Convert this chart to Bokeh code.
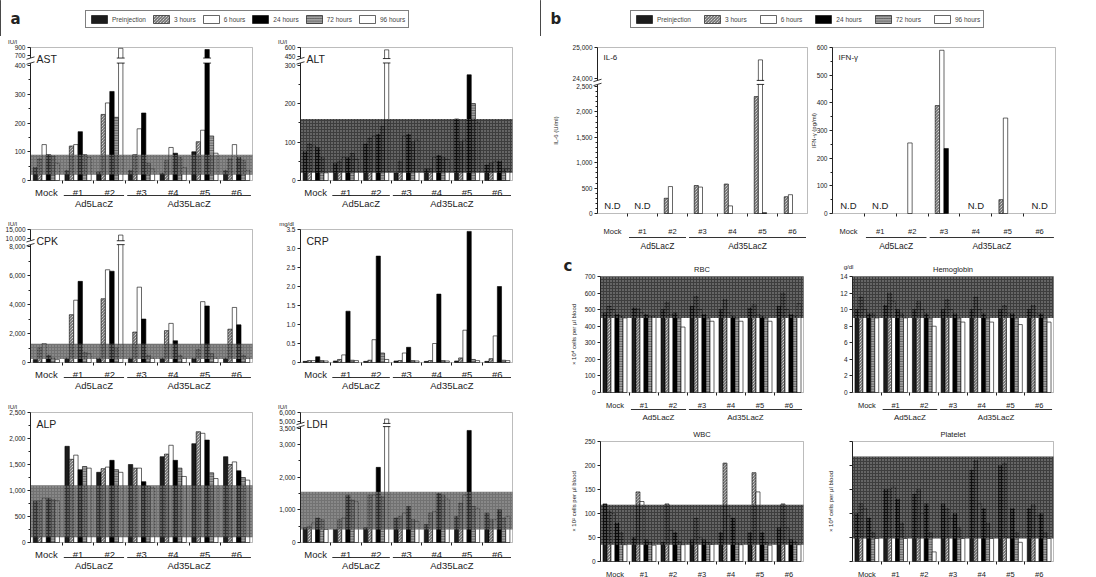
import math
from bokeh.plotting import figure
from bokeh.layouts import row, column
from bokeh.models import Range1d, FixedTicker, BoxAnnotation, Legend, LegendItem, LinearAxis
from bokeh.core.properties import value
from bokeh.embed import file_html
from bokeh.resources import INLINE

FONT = "Liberation Sans"

# ---------------- data ----------------
groups = ["Mock", "#1", "#2", "#3", "#4", "#5", "#6"]
timepoints = ["Preinjection", "3 hours", "6 hours", "24 hours", "72 hours", "96 hours"]
vectors = ["Ad5LacZ", "Ad35LacZ"]
vector_members = [["#1", "#2"], ["#3", "#4", "#5", "#6"]]

# rows = timepoints (Preinjection, 3h, 6h, 24h, 72h, 96h); columns = groups
AST_VALUES = [
    [45, 35, 30, 35, 25, 100, 35],
    [75, 120, 230, 90, 70, 135, 75],
    [125, 125, 270, 180, 115, 175, 125],
    [90, 170, 310, 235, 95, 850, 80],
    [85, 90, 220, 60, 80, 155, 70],
    [60, 80, 880, 40, 45, 95, 35],
]
AST_BAND = [20, 90]
AST_TICKS = [0, 100, 200, 300, 400, 700, 900]
AST_TICK_LABELS = ["0", "100", "200", "300", "400", "700", "900"]
AST_MINOR = [50, 150, 250, 350]

ALT_VALUES = [
    [75, 45, 95, 20, 30, 160, 40],
    [95, 50, 110, 50, 30, 100, 45],
    [90, 60, 115, 115, 60, 105, 50],
    [85, 60, 120, 120, 65, 275, 50],
    [60, 70, 140, 100, 60, 200, 30],
    [20, 55, 560, 105, 55, 150, 30],
]
ALT_BAND = [20, 160]
ALT_TICKS = [0, 100, 200, 300, 450, 600]
ALT_TICK_LABELS = ["0", "100", "200", "300", "450", "600"]
ALT_MINOR = [50, 150, 250]

CPK_VALUES = [
    [200, 300, 300, 300, 300, 300, 300],
    [1000, 3300, 4400, 2100, 2200, 900, 2300],
    [1300, 4300, 6400, 5200, 2700, 4200, 3800],
    [500, 5600, 6300, 3000, 1500, 3900, 2600],
    [300, 700, 1000, 500, 500, 600, 500],
    [200, 600, 12000, 300, 300, 300, 300],
]
CPK_BAND = [250, 1300]
CPK_TICKS = [0, 2000, 4000, 6000, 8000, 10000, 15000]
CPK_TICK_LABELS = ["0", "2,000", "4,000", "6,000", "8,000", "10,000", "15,000"]
CPK_MINOR = [1000, 3000, 5000, 7000]

CRP_VALUES = [
    [0.03, 0.04, 0.03, 0.04, 0.03, 0.04, 0.03],
    [0.05, 0.08, 0.06, 0.05, 0.05, 0.12, 0.1],
    [0.05, 0.2, 0.6, 0.25, 0.5, 0.85, 0.7],
    [0.15, 1.35, 2.8, 0.4, 1.8, 3.45, 2.0],
    [0.05, 0.06, 0.25, 0.05, 0.05, 0.08, 0.06],
    [0.04, 0.05, 0.08, 0.04, 0.04, 0.05, 0.05],
]
CRP_TICKS = [0, 0.5, 1.0, 1.5, 2.0, 2.5, 3.0, 3.5]
CRP_TICK_LABELS = ["0", "0.5", "1.0", "1.5", "2.0", "2.5", "3.0", "3.5"]

ALP_VALUES = [
    [800, 1850, 1350, 1500, 1650, 1900, 1650],
    [800, 1600, 1420, 1430, 1700, 2130, 1500],
    [850, 1680, 1450, 1430, 1870, 2100, 1550],
    [850, 1400, 1580, 1170, 1580, 1970, 1380],
    [820, 1460, 1400, 1080, 1430, 1340, 1250],
    [800, 1430, 1350, 1050, 1270, 1230, 1200],
]
ALP_BAND = [100, 1100]
ALP_TICKS = [0, 500, 1000, 1500, 2000, 2500]
ALP_TICK_LABELS = ["0", "500", "1,000", "1,500", "2,000", "2,500"]
ALP_MINOR = [250, 750, 1250, 1750, 2250]

LDH_VALUES = [
    [450, 400, 450, 750, 550, 800, 900],
    [500, 700, 1450, 800, 900, 1200, 700],
    [600, 750, 1450, 900, 950, 1450, 700],
    [750, 1450, 2300, 1100, 1500, 3430, 1000],
    [700, 1300, 1400, 700, 1450, 1100, 750],
    [400, 1250, 5300, 650, 1330, 1050, 800],
]
LDH_BAND = [400, 1550]
LDH_TICKS = [0, 1000, 2000, 3000, 3500, 5000, 6000]
LDH_TICK_LABELS = ["0", "1,000", "2,000", "3,000", "3,500", "5,000", "6,000"]
LDH_MINOR = [500, 1500, 2500]

IL6_VALUES = [
    [0, 0, 0, 0, 0, 0, 0],
    [0, 0, 300, 550, 580, 2300, 330],
    [0, 0, 530, 520, 150, 24600, 370],
    [0, 0, 0, 0, 0, 15, 0],
    [0, 0, 0, 0, 0, 0, 0],
    [0, 0, 0, 0, 0, 0, 0],
]
IL6_ND = ["Mock", "#1"]
IL6_TICKS = [0, 500, 1000, 1500, 2000, 2500, 24000, 25000]
IL6_TICK_LABELS = ["0", "500", "1,000", "1,500", "2,000", "2,500", "24,000", "25,000"]
IL6_MINOR = [100, 200, 300, 400, 600, 700, 800, 900, 1100, 1200, 1300, 1400,
             1600, 1700, 1800, 1900, 2100, 2200, 2300, 2400]

IFN_VALUES = [
    [0, 0, 0, 0, 0, 0, 0],
    [0, 0, 0, 390, 0, 50, 0],
    [0, 0, 255, 590, 0, 345, 0],
    [0, 0, 0, 235, 0, 0, 0],
    [0, 0, 0, 0, 0, 0, 0],
    [0, 0, 0, 0, 0, 0, 0],
]
IFN_ND = ["Mock", "#1", "#4", "#6"]
IFN_TICKS = [0, 100, 200, 300, 400, 500, 600]
IFN_TICK_LABELS = ["0", "100", "200", "300", "400", "500", "600"]
IFN_MINOR = [50, 150, 250, 350, 450, 550]

RBC_VALUES = [
    [480, 510, 500, 520, 500, 510, 520],
    [520, 505, 545, 580, 560, 530, 600],
    [500, 480, 470, 500, 480, 470, 500],
    [470, 470, 480, 470, 460, 460, 470],
    [460, 460, 450, 450, 450, 450, 460],
    [450, 460, 395, 430, 430, 430, 535],
]
RBC_BAND = [450, 700]
RBC_TICKS = [0, 100, 200, 300, 400, 500, 600, 700]
RBC_TICK_LABELS = ["0", "100", "200", "300", "400", "500", "600", "700"]

HB_VALUES = [
    [10, 10.5, 10, 10, 10, 10, 10],
    [11.5, 12, 11, 11.2, 11.5, 10.5, 10.5],
    [10, 11, 10, 10, 10, 9.5, 9.5],
    [9.5, 10, 9.5, 9.5, 9.5, 9.5, 9.5],
    [9.5, 9.5, 9, 9, 9, 9, 9],
    [9, 9, 8, 8.5, 8.5, 8.2, 8.5],
]
HB_BAND = [9, 14]
HB_TICKS = [0, 2, 4, 6, 8, 10, 12, 14]
HB_TICK_LABELS = ["0", "2", "4", "6", "8", "10", "12", "14"]

WBC_VALUES = [
    [120, 50, 40, 45, 60, 60, 70],
    [105, 145, 120, 90, 205, 185, 120],
    [100, 125, 65, 50, 95, 145, 70],
    [80, 45, 60, 45, 90, 60, 45],
    [60, 40, 42, 40, 38, 40, 41],
    [35, 34, 35, 36, 35, 34, 35],
]
WBC_BAND = [35, 118]
WBC_TICKS = [0, 50, 100, 150, 200, 250]
WBC_TICK_LABELS = ["0", "50", "100", "150", "200", "250"]

PLT_VALUES = [
    [100, 150, 140, 120, 190, 200, 110],
    [120, 150, 150, 110, 210, 205, 118],
    [110, 155, 100, 90, 120, 50, 95],
    [90, 130, 120, 100, 110, 110, 100],
    [60, 80, 60, 70, 80, 60, 60],
    [48, 48, 20, 48, 48, 40, 48],
]
PLT_BAND = [48, 219]
PLT_TICKS = [0, 50, 100, 150, 200, 250]   # ticks drawn without labels

# ---------------- styles ----------------
BAR_STYLES = [
    dict(fill_color="#1c1c1c", line_color="black"),
    dict(fill_color="white", line_color="black", hatch_pattern="\\", hatch_color="#222",
         hatch_scale=3.0, hatch_weight=0.8),
    dict(fill_color="white", line_color="black"),
    dict(fill_color="black", line_color="black"),
    dict(fill_color="#a0a0a0", line_color="black", hatch_pattern="-", hatch_color="#333",
         hatch_scale=2.5, hatch_weight=0.6),
    dict(fill_color="white", line_color="black"),
]
# (fill colour, fill alpha) of the stippled normal-range band
BAND_DARK = ("#0c0c0c", 0.8)
BAND_MID = ("#3c3c3c", 0.72)
INK = "#222222"

# text sizes and label offsets per panel block
STYLE_A = dict(name="10.5px", cat="9.5px", group="9.5px", nd="9.5px", title="8px",
               cat_standoff=3, ul_px=15, group_dy=2)
STYLE_B = dict(name="8px", cat="7.5px", group="8.5px", nd="9.5px", title="8px",
               cat_standoff=10, ul_px=24, group_dy=3)
STYLE_C = dict(name="8px", cat="7.5px", group="8px", nd="9px", title="7.5px",
               cat_standoff=5, ul_px=17, group_dy=3)


def make_map(brk):
    if brk is None:
        return lambda v: v
    lo_max, up_min, up_max, d_min, d_max = brk

    def f(v):
        if v <= lo_max:
            return v
        if v >= up_min:
            return round(d_min + (v - up_min) * (d_max - d_min) / (up_max - up_min), 4)
        return lo_max
    return f


def put_text(p, x, y, s, size, dx=0, dy=0, align="center", baseline="middle",
             angle=0.0, bold=False, font=FONT):
    p.text(x=[x], y=[y], text=[s], x_offset=dx, y_offset=-dy, angle=angle,
           text_align=align, text_baseline=baseline, text_font=value(font),
           text_font_size=size, text_color=INK,
           text_font_style="bold" if bold else "normal")


def make_panel(w, h, l, r, t, b, values, band, ticks, tick_labels=None, minor=(),
               name=None, title=None, unit=None, unit_pos=(-18, 6), ylabel=None,
               ylabel_dx=-30, nd=(), brk=None, band_style=BAND_MID, show_groups=True,
               st=STYLE_A):
    f = make_map(brk)
    n = len(groups)
    y_top = f(ticks[-1])
    upp = y_top / (h - t - b)
    xpp = n / (w - l - r)
    x_end = n - 0.5
    p = figure(width=w, height=h, output_backend="svg", toolbar_location=None,
               x_range=Range1d(-0.5 - l * xpp, x_end + r * xpp),
               y_range=Range1d(-b * upp, y_top + t * upp),
               x_axis_location=None, y_axis_location="left",
               min_border=0, outline_line_color=None,
               background_fill_color="white", border_fill_color="white")
    p.grid.visible = False

    # y axis drawn at the left edge of the box
    ax = p.yaxis[0]
    disp = [f(v) for v in ticks]
    ax.fixed_location = -0.5
    ax.bounds = (0, y_top)
    ax.axis_line_color = INK
    ax.major_tick_in = 0
    ax.minor_tick_in = 0
    ax.major_tick_line_color = INK
    ax.minor_tick_line_color = INK
    if tick_labels is not None:
        ax.ticker = FixedTicker(ticks=disp, minor_ticks=[f(v) for v in minor])
        ax.major_label_overrides = {d: s for d, s in zip(disp, tick_labels)}
        ax.major_label_text_font = FONT
        ax.major_label_text_font_size = "6.5px"
        ax.major_label_text_color = INK
        ax.major_label_standoff = 2
        ax.major_tick_out = 3
        ax.minor_tick_out = 2
    else:
        ax.ticker = FixedTicker(ticks=[], minor_ticks=disp)
        ax.minor_tick_out = 3

    # x axis: group names at the centres, small ticks at the boundaries
    xa = LinearAxis(fixed_location=0, bounds=(-0.5, x_end),
                    ticker=FixedTicker(ticks=list(range(n)),
                                       minor_ticks=[i + 0.5 for i in range(n - 1)]),
                    major_label_overrides={i: g for i, g in enumerate(groups)},
                    major_label_text_font=FONT, major_label_text_font_size=st["cat"],
                    major_label_text_color=INK, major_label_standoff=st["cat_standoff"],
                    major_tick_out=0, major_tick_in=0, major_tick_line_color=None,
                    minor_tick_out=3, minor_tick_in=0, minor_tick_line_color=INK,
                    axis_line_color=None)
    p.add_layout(xa, "below")

    bw = 0.138
    for k, vals in enumerate(values):
        xs = [i + (k - 2.5) * bw for i, v in enumerate(vals) if v > 0]
        tops = [f(v) for v in vals if v > 0]
        p.vbar(x=xs, top=tops, bottom=0, width=bw, line_width=0.6, **BAR_STYLES[k])

    # normal range: stippled band laid over the bars
    if band is not None:
        p.quad(left=[-0.5], right=[x_end], bottom=[f(band[0])], top=[f(band[1])],
               fill_color=band_style[0], fill_alpha=band_style[1], line_color=None,
               hatch_pattern=".", hatch_color="#b4b4b4", hatch_alpha=0.85,
               hatch_scale=3.0, hatch_weight=0.7)

    if brk is not None:
        lo_max, up_min, up_max, d_min, d_max = brk
        g0 = lo_max + (d_min - lo_max) * 0.25
        g1 = lo_max + (d_min - lo_max) * 0.75
        bx = [i + (k - 2.5) * bw for k, vals in enumerate(values)
              for i, v in enumerate(vals) if v > lo_max]
        if bx:
            p.quad(left=[x - bw * 0.9 for x in bx], right=[x + bw * 0.9 for x in bx],
                   bottom=[g0] * len(bx), top=[g1] * len(bx),
                   fill_color="white", line_color=None)
            p.segment(x0=[x - bw * 0.9 for x in bx] * 2, x1=[x + bw * 0.9 for x in bx] * 2,
                      y0=[g0] * len(bx) + [g1] * len(bx), y1=[g0] * len(bx) + [g1] * len(bx),
                      line_color="black", line_width=0.8)
        # break symbol on the axis
        p.quad(left=[-0.5 - 4 * xpp], right=[-0.5 + 4 * xpp], bottom=[g0], top=[g1],
               fill_color="white", line_color=None, level="overlay")
        p.segment(x0=[-0.5 - 4 * xpp] * 2, x1=[-0.5 + 4 * xpp] * 2,
                  y0=[g0 - 1.2 * upp, g1 - 1.2 * upp], y1=[g0 + 1.2 * upp, g1 + 1.2 * upp],
                  line_color=INK, line_width=0.9, level="overlay")

    p.add_layout(BoxAnnotation(left=-0.5, right=x_end, bottom=0, top=y_top,
                               fill_color=None, fill_alpha=0, line_color=INK,
                               line_width=1))

    if name:
        put_text(p, -0.5, y_top, name, st["name"], dx=6, dy=-5, align="left",
                 baseline="top")
    if nd:
        p.text(x=[groups.index(g) for g in nd], y=[0] * len(nd), text=["N.D"] * len(nd),
               y_offset=-3, text_baseline="bottom", text_align="center",
               text_font=value(FONT), text_font_size=st["nd"], text_color=INK)

    if show_groups:
        ul_y = -st["ul_px"] * upp
        for vec, members in zip(vectors, vector_members):
            idx = [groups.index(m) for m in members]
            x0, x1 = min(idx) - 0.45, max(idx) + 0.45
            p.segment(x0=[x0], x1=[x1], y0=[ul_y], y1=[ul_y], line_color="#333333",
                      line_width=1)
            put_text(p, (x0 + x1) / 2, ul_y, vec, st["group"], dy=-st["group_dy"],
                     baseline="top")

    if unit:
        put_text(p, -0.5, y_top, unit, "6px", dx=unit_pos[0], dy=unit_pos[1])
    if title:
        put_text(p, (n - 1) / 2, y_top, title, st["title"], dy=3, baseline="bottom")
    if ylabel:
        put_text(p, -0.5, y_top / 2, ylabel, "6px", dx=ylabel_dx, angle=math.pi / 2)
    return p


def make_legend(w, h, letter, lx, ly, spacing):
    p = figure(width=w, height=h, output_backend="svg", toolbar_location=None,
               x_range=Range1d(0, 1), y_range=Range1d(0, 1),
               x_axis_location=None, y_axis_location=None,
               outline_line_color=None, min_border=0,
               background_fill_color="white", border_fill_color="white")
    p.grid.visible = False
    items = []
    for k, tp in enumerate(timepoints):
        rr = p.vbar(x=[-5], top=[1], width=0.1, line_width=0.6, **BAR_STYLES[k])
        items.append(LegendItem(label=tp, renderers=[rr]))
    leg = Legend(items=items, orientation="horizontal", location=(lx, ly),
                 label_text_font=FONT, label_text_font_size="6.5px",
                 glyph_width=20, glyph_height=10, label_height=10, label_standoff=3,
                 spacing=spacing, padding=3, margin=0,
                 border_line_color="black", border_line_width=1.3,
                 background_fill_color="white")
    p.add_layout(leg, "center")
    put_text(p, 10 / w, 0.5, letter, "15px", align="left", bold=True, font="DejaVu Sans")
    return p


leg_a = make_legend(540, 36, "a", 85, 8, 5)
leg_b = make_legend(556, 36, "b", 90, 8, 11)

ast = make_panel(270, 176, 30, 18, 11, 32, AST_VALUES, AST_BAND, AST_TICKS, AST_TICK_LABELS,
                 AST_MINOR, name="AST", unit="IU/l", brk=(400, 700, 900, 435, 463))
alt = make_panel(270, 176, 30, 28, 11, 32, ALT_VALUES, ALT_BAND, ALT_TICKS, ALT_TICK_LABELS,
                 ALT_MINOR, name="ALT", unit="IU/l", brk=(300, 450, 600, 323, 346),
                 band_style=BAND_DARK)
cpk = make_panel(270, 180, 30, 18, 17, 30, CPK_VALUES, CPK_BAND, CPK_TICKS, CPK_TICK_LABELS,
                 CPK_MINOR, name="CPK", unit="IU/l", brk=(8000, 10000, 15000, 8540, 9180))
crp = make_panel(270, 180, 30, 28, 17, 30, CRP_VALUES, None, CRP_TICKS, CRP_TICK_LABELS,
                 (), name="CRP", unit="mg/dl", unit_pos=(-14, 6))
alp = make_panel(270, 185, 30, 18, 20, 35, ALP_VALUES, ALP_BAND, ALP_TICKS, ALP_TICK_LABELS,
                 ALP_MINOR, name="ALP", unit="IU/l")
ldh = make_panel(270, 185, 30, 28, 20, 35, LDH_VALUES, LDH_BAND, LDH_TICKS, LDH_TICK_LABELS,
                 LDH_MINOR, name="LDH", unit="IU/l", brk=(3500, 5000, 6000, 3694, 3980))

il6 = make_panel(269, 216, 57, 2, 11, 39, IL6_VALUES, None, IL6_TICKS, IL6_TICK_LABELS,
                 IL6_MINOR, name="IL-6", ylabel="IL-6 (U/ml)", ylabel_dx=-42, nd=IL6_ND,
                 brk=(2500, 24000, 25000, 2658, 3266), st=STYLE_B)
ifn = make_panel(287, 216, 23, 41, 11, 39, IFN_VALUES, None, IFN_TICKS, IFN_TICK_LABELS,
                 IFN_MINOR, name="IFN-γ", ylabel="IFN-γ (pg/ml)", ylabel_dx=-19, nd=IFN_ND,
                 st=STYLE_B)

rbc = make_panel(269, 173, 60, 6, 24, 33, RBC_VALUES, RBC_BAND, RBC_TICKS, RBC_TICK_LABELS,
                 title="RBC", ylabel="× 10⁴ cells per μl blood", ylabel_dx=-27,
                 band_style=BAND_DARK, st=STYLE_C)
put_text(rbc, -0.5, 700, "c", "15px", dx=-37, dy=11, align="left", bold=True,
         font="DejaVu Sans")
hb = make_panel(287, 173, 43, 43, 24, 33, HB_VALUES, HB_BAND, HB_TICKS, HB_TICK_LABELS,
                title="Hemoglobin", unit="g/dl", unit_pos=(-4, 10), band_style=BAND_DARK,
                st=STYLE_C)
wbc = make_panel(269, 152, 60, 6, 16, 16, WBC_VALUES, WBC_BAND, WBC_TICKS, WBC_TICK_LABELS,
                 title="WBC", ylabel="× 10² cells per μl blood", ylabel_dx=-27,
                 band_style=BAND_DARK, show_groups=False, st=STYLE_C)
plt = make_panel(287, 152, 43, 43, 16, 16, PLT_VALUES, PLT_BAND, PLT_TICKS, None,
                 title="Platelet", ylabel="× 10⁴ cells per μl blood", ylabel_dx=-22,
                 band_style=BAND_DARK, show_groups=False, st=STYLE_C)

left = column(row(ast, alt), row(cpk, crp), row(alp, ldh))
right = column(row(il6, ifn), row(rbc, hb), row(wbc, plt))
layout = column(row(leg_a, leg_b), row(left, right))

open("out.html", "w").write(file_html(layout, INLINE))
